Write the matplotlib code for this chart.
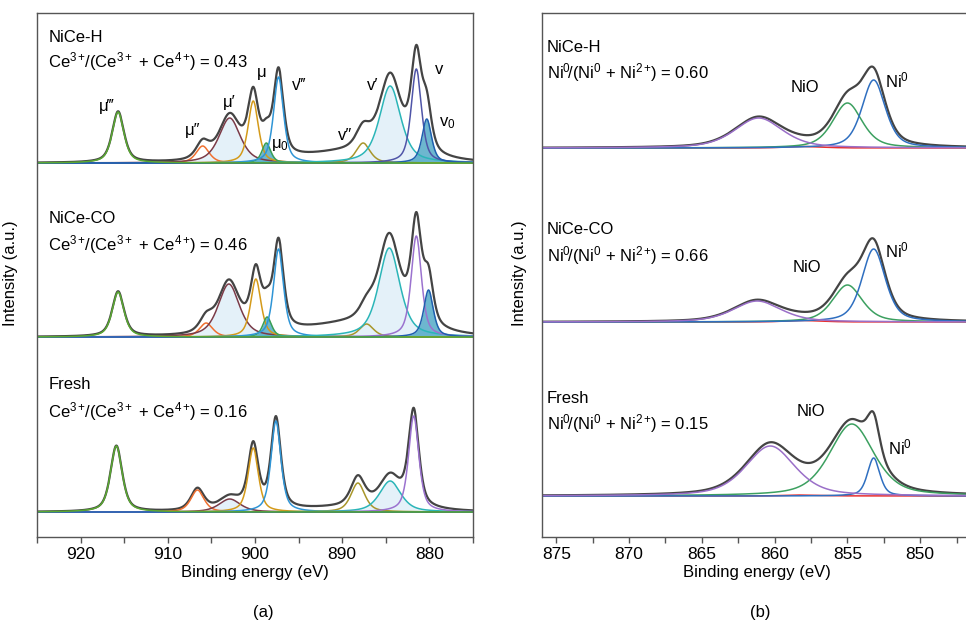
import numpy as np
import matplotlib
matplotlib.use("Agg")
import matplotlib.pyplot as plt
from matplotlib.ticker import MultipleLocator

plt.rcParams['font.family'] = ['Liberation Sans', 'DejaVu Sans']
plt.rcParams['mathtext.fontset'] = 'custom'
plt.rcParams['mathtext.rm'] = 'Liberation Sans'
plt.rcParams['mathtext.it'] = 'Liberation Sans:italic'

# ── Data: Ce 3d (panel a) ───────────────────────────────
samples   = ["Fresh", "NiCe-CO", "NiCe-H"]
ce_ratio  = ["0.16", "0.46", "0.43"]
ce_labels = ["μ‴", "μ″", "μ′", "μ", "μ$_{\\mathregular{0}}$",
             "v‴", "v″", "v′", "v", "v$_{\\mathregular{0}}$"]
# peak centres (eV) per sample
ce_fresh_pos = [915.9, 906.6, 902.9, 900.2, 898.6, 897.6, 888.2, 884.5, 881.8, 880.2]
ce_co_pos    = [915.7, 905.6, 903.0, 899.9, 898.6, 897.3, 887.2, 884.6, 881.5, 880.1]
ce_h_pos     = [915.7, 906.0, 902.9, 900.2, 898.7, 897.3, 887.6, 884.5, 881.5, 880.3]
# peak heights (a.u.)
ce_fresh_h = [66, 22, 13, 64, 0, 91, 29, 31, 96, 0]
ce_co_h    = [45, 14, 53, 58, 20, 88, 13, 89, 101, 47]
ce_h_h     = [51, 17, 45, 62, 20, 86, 20, 77, 94, 44]
ce_fwhm    = [1.6, 1.8, 2.9, 1.4, 1.2, 1.35, 1.9, 2.9, 1.4, 1.3]
# broad background hump that is only in the envelope
ce_bg_h    = [4, 12, 10]
ce_bg_pos  = 888.0
ce_bg_fwhm = 14.0

# ── Data: Ni 2p3/2 (panel b) ────────────────────────────
ni_ratio  = ["0.15", "0.66", "0.60"]
# satellite, NiO, Ni0, Ni0 satellite
ni_fresh_pos = [860.3, 854.7, 853.2, 858.0]
ni_co_pos    = [861.2, 855.0, 853.2, 858.0]
ni_h_pos     = [861.1, 855.0, 853.2, 858.0]
ni_fresh_h = [50, 72, 38, 1.0]
ni_co_h    = [21, 37, 73, 1.5]
ni_h_h     = [30, 45, 68, 1.5]
ni_fresh_w = [4.0, 3.6, 1.0, 3.0]
ni_co_w    = [3.9, 2.4, 1.9, 3.0]
ni_h_w     = [3.9, 2.4, 1.9, 3.0]

# ── Styles ──────────────────────────────────────────────
ce_colors = ["#5aa832", "#f07030", "#7a3b48", "#d49a1a", "#3a9f55",
             "#2f95d6", "#a8962a", "#2bb5b8", "#9b72cf", "#1f5fae"]
ce_v_colors = ["#9b72cf", "#9b72cf", "#4f55a8"]
light_fill = [2, 7]      # μ′, v′
dark_fill  = [4, 9]      # μ0, v0
ni_colors  = ["#9a6fc8", "#3ca060", "#2f6fc0", "#e83030"]
ENV_COLOR  = "#444444"
SPINE      = "#555555"
FS = 12

ce_offsets = [25, 200, 374]
ni_offsets = [41, 215, 389]


def pvoigt(x, c, h, w, eta=0.6):
    d = (x - c) / w
    g = np.exp(-4 * np.log(2) * d ** 2)
    l = 1.0 / (1 + 4 * d ** 2)
    return h * (eta * l + (1 - eta) * g)


def style_axis(ax):
    for s in ax.spines.values():
        s.set_color(SPINE)
        s.set_linewidth(1.0)
    ax.set_yticks([])
    ax.tick_params(axis='x', which='both', direction='out', length=4,
                   width=1, color=SPINE, labelsize=12.5, pad=3)
    ax.set_xlabel("Binding energy (eV)", fontsize=FS, labelpad=2)
    ax.set_ylabel("Intensity (a.u.)", fontsize=FS)


fig = plt.figure(figsize=(9.66, 6.22), dpi=100)

# ── Panel (a) ───────────────────────────────────────────
ax1 = fig.add_axes([37 / 966, 85 / 622, 436 / 966, 524 / 622])
x = np.linspace(875, 925, 2000)
ce_pos = [ce_fresh_pos, ce_co_pos, ce_h_pos]
ce_h = [ce_fresh_h, ce_co_h, ce_h_h]
for k in range(3):
    base = ce_offsets[k]
    comps = [pvoigt(x, c, h, w) for c, h, w in zip(ce_pos[k], ce_h[k], ce_fwhm)]
    env = np.sum(comps, axis=0) + pvoigt(x, ce_bg_pos, ce_bg_h[k], ce_bg_fwhm, eta=0)
    ax1.plot(x, base + env, color=ENV_COLOR, lw=1.6)
    for i in light_fill:
        ax1.fill_between(x, base, base + comps[i], color="#d3e9f6", alpha=0.6, lw=0)
    for i in dark_fill:
        ax1.fill_between(x, base, base + comps[i], color="#3c9fc0", alpha=0.75, lw=0)
    for i in list(range(1, 10)) + [0]:
        col = ce_v_colors[k] if i == 8 else ce_colors[i]
        ax1.plot(x, base + comps[i], color=col, lw=1.1)

ax1.set_xlim(925, 875)
ax1.set_ylim(0, 524)
ax1.xaxis.set_major_locator(MultipleLocator(10))
ax1.xaxis.set_minor_locator(MultipleLocator(5))
style_axis(ax1)
ax1.yaxis.set_label_coords(-0.043, 0.504)

# sample names and ratios
name_y  = [148, 314, 495]
ratio_y = [120, 287, 470]
for k in range(3):
    ax1.text(923.7, name_y[k], samples[k], fontsize=FS, va='baseline')
    ax1.text(923.7, ratio_y[k],
             "Ce$^{\\mathregular{3+}}\\!$/(Ce$^{\\mathregular{3+}}$ + Ce$^{\\mathregular{4+}}\\!$) = "
             + ce_ratio[k], fontsize=FS, va='baseline')

# peak labels (top spectrum)
lab_x = [917.0, 907.1, 902.9, 899.2, 897.2, 894.9, 889.7, 886.5, 878.9, 878.0]
lab_y = [430, 406, 435, 465, 392, 451, 402, 452, 468, 414]
for t, lx, ly in zip(ce_labels, lab_x, lab_y):
    ax1.text(lx, ly, t, fontsize=FS, ha='center', va='center')

# ── Panel (b) ───────────────────────────────────────────
ax2 = fig.add_axes([541.7 / 966, 85 / 622, 429.5 / 966, 524 / 622])
xb = np.linspace(846.5, 876, 2000)
ni_pos = [ni_fresh_pos, ni_co_pos, ni_h_pos]
ni_h = [ni_fresh_h, ni_co_h, ni_h_h]
ni_w = [ni_fresh_w, ni_co_w, ni_h_w]
for k in range(3):
    base = ni_offsets[k]
    comps = [pvoigt(xb, c, h, w, eta=0.5) for c, h, w in zip(ni_pos[k], ni_h[k], ni_w[k])]
    ax2.plot(xb, base + np.sum(comps, axis=0), color=ENV_COLOR, lw=1.6)
    for i in [3, 1, 2, 0]:
        ax2.plot(xb, base + comps[i], color=ni_colors[i], lw=1.1)

ax2.set_xlim(876, 846.5)
ax2.set_ylim(0, 524)
ax2.xaxis.set_major_locator(MultipleLocator(5))
ax2.xaxis.set_minor_locator(MultipleLocator(2.5))
style_axis(ax2)
ax2.yaxis.set_label_coords(-0.034, 0.504)

ni_name_y  = [134, 303, 485]
ni_ratio_y = [108, 276, 459]
nio_xy = [(857.5, 125), (857.8, 269), (857.9, 450)]
ni0_xy = [(851.4, 90), (851.6, 287), (851.6, 457)]
for k in range(3):
    ax2.text(875.66, ni_name_y[k], samples[k], fontsize=FS, va='baseline')
    ax2.text(875.66, ni_ratio_y[k],
             "Ni$^{\\mathregular{0}}\\!$/(Ni$^{\\mathregular{0}}$ + Ni$^{\\mathregular{2+}}\\!$) = "
             + ni_ratio[k], fontsize=FS, va='baseline')
    ax2.text(*nio_xy[k], "NiO", fontsize=FS, ha='center', va='center')
    ax2.text(*ni0_xy[k], "Ni$^{\\mathregular{0}}$", fontsize=FS, ha='center', va='center')

fig.text(263 / 966, 1 - 613 / 622, "(a)", fontsize=FS, ha='center', va='center')
fig.text(760 / 966, 1 - 613 / 622, "(b)", fontsize=FS, ha='center', va='center')

fig.savefig("out.png", dpi=100)
